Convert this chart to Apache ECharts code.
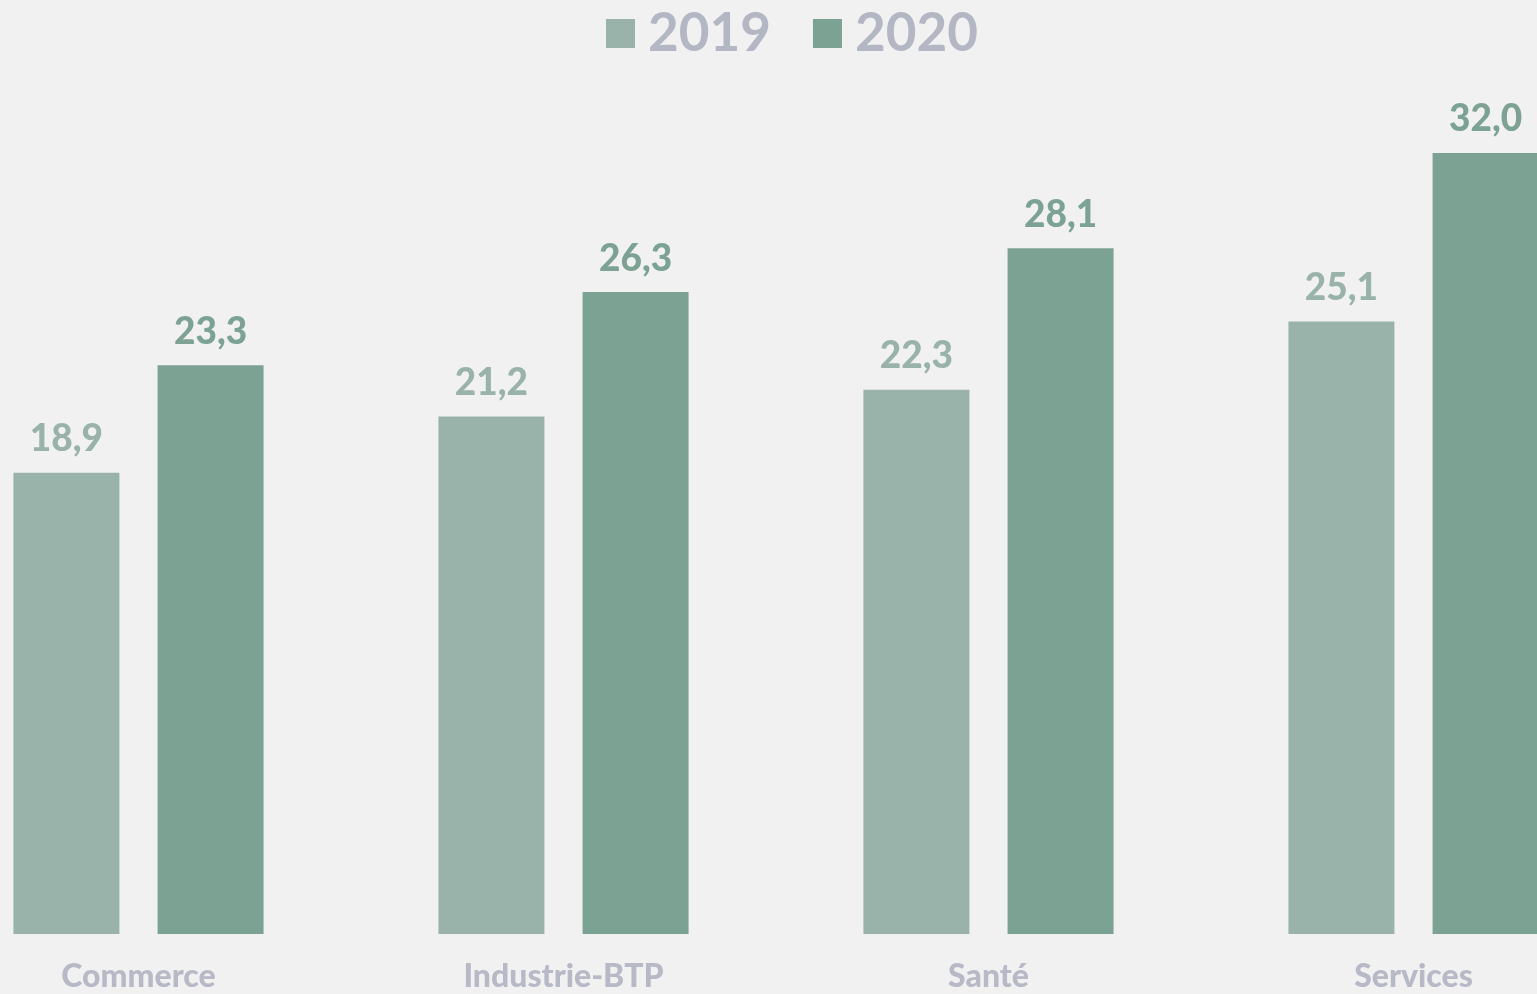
<!DOCTYPE html>
<html>
<head>
<meta charset="utf-8">
<script src="https://cdn.jsdelivr.net/npm/echarts@6/dist/echarts.min.js"></script>
<style>
  html, body { margin: 0; padding: 0; background: #f1f1f1; overflow: hidden; }
  #chart { width: 1700px; height: 994px; margin-left: -74px; }
</style>
</head>
<body>
<div id="chart"></div>
<script>
// secteurs
var categories = ['Commerce', 'Industrie-BTP', 'Santé', 'Services'];
var seriesNames = ['2019', '2020'];
var values2019 = [18.9, 21.2, 22.3, 25.1];
var values2020 = [23.3, 26.3, 28.1, 32.0];

var c2019 = '#99b3aa';
var c2020 = '#7ca294';
var heavyFont = 'Lato Black';

function fmt(p) {
  return p.value.toFixed(1).replace('.', ',');
}

var myChart = echarts.init(document.getElementById('chart'));
myChart.setOption({
  backgroundColor: '#f1f1f1',
  animation: false,
  legend: {
    top: 2,
    left: 675,
    itemWidth: 29,
    itemHeight: 29,
    itemGap: 42,
    icon: 'rect',
    textStyle: { fontFamily: 'Lato', fontSize: 53, fontWeight: 'bold', color: '#b3b7c3', padding: [0, 0, 0, 8] },
    data: seriesNames
  },
  grid: { left: 0, right: 0, top: 153, bottom: 60, containLabel: false },
  xAxis: {
    type: 'category',
    data: categories,
    axisLine: { show: false },
    axisTick: { show: false },
    axisLabel: { margin: 27, fontFamily: heavyFont, fontSize: 32, color: '#b7bac6' }
  },
  yAxis: {
    type: 'value',
    min: 0,
    max: 32,
    show: false,
    splitLine: { show: false }
  },
  series: [
    {
      name: seriesNames[0],
      type: 'bar',
      data: values2019,
      barWidth: 106,
      barGap: '36%',
      itemStyle: { color: c2019 },
      label: { show: true, position: 'top', distance: 15, formatter: fmt, fontFamily: heavyFont, fontSize: 37, color: c2019 }
    },
    {
      name: seriesNames[1],
      type: 'bar',
      data: values2020,
      barWidth: 106,
      itemStyle: { color: c2020 },
      label: { show: true, position: 'top', distance: 15, formatter: fmt, fontFamily: heavyFont, fontSize: 37, color: c2020 }
    }
  ]
});
</script>
</body>
</html>
